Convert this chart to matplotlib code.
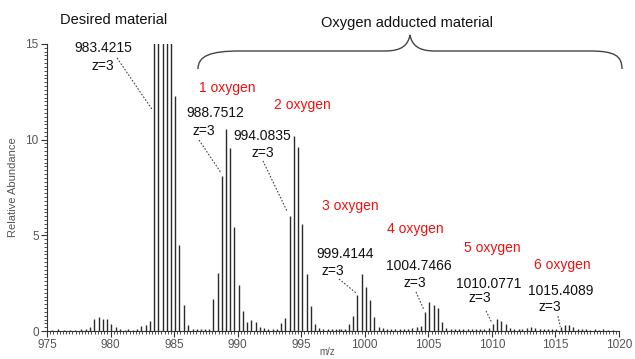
import matplotlib.pyplot as plt
from matplotlib.path import Path
from matplotlib.patches import PathPatch
from matplotlib.ticker import MultipleLocator

plt.rcParams["font.family"] = ["Liberation Sans", "DejaVu Sans"]

# Peaks of the z=3 ion series (m/z, relative abundance)
desired_mz = [978.39, 978.72, 979.06, 979.39, 979.72, 980.06, 980.39,
              982.42, 982.75, 983.09, 983.42, 983.75, 984.09, 984.42,
              984.75, 985.09, 985.42, 985.75, 986.09]
desired_ab = [0.19, 0.63, 0.72, 0.63, 0.63, 0.37, 0.2,
              0.25, 0.3, 0.5, 24.0, 38.0, 40.0, 31.0,
              19.0, 12.3, 4.5, 1.35, 0.3]

ox1_mz = [988.08, 988.42, 988.75, 989.08, 989.42, 989.75, 990.08, 990.42,
          990.75, 991.08, 991.42, 991.75, 992.08, 992.42, 992.75, 993.08]
ox1_ab = [1.66, 3.05, 8.1, 10.54, 9.58, 5.45, 2.4, 1.06,
          0.47, 0.57, 0.49, 0.22, 0.17, 0.12, 0.1, 0.08]

ox2_mz = [993.42, 993.75, 994.08, 994.42, 994.75, 995.08, 995.42, 995.75,
          996.08, 996.42, 996.75, 997.08, 997.42, 997.75]
ox2_ab = [0.43, 0.7, 6.03, 10.2, 9.6, 5.6, 2.96, 1.32,
          0.38, 0.15, 0.12, 0.1, 0.1, 0.08]

ox3_mz = [998.42, 998.75, 999.08, 999.41, 999.75, 1000.08, 1000.41, 1000.75,
          1001.08, 1001.41, 1001.75, 1002.08]
ox3_ab = [0.12, 0.35, 0.77, 1.87, 2.96, 2.28, 1.6, 0.75,
          0.22, 0.15, 0.12, 0.1]

ox4_mz = [1004.08, 1004.41, 1004.75, 1005.08, 1005.41, 1005.75, 1006.08,
          1006.41, 1006.75]
ox4_ab = [0.2, 0.25, 1.0, 1.5, 1.38, 1.2, 0.45, 0.18, 0.12]

ox5_mz = [1009.41, 1009.74, 1010.08, 1010.41, 1010.74, 1011.08, 1011.41,
          1011.74, 1012.75, 1013.08, 1013.41, 1013.75]
ox5_ab = [0.12, 0.15, 0.35, 0.61, 0.54, 0.36, 0.17, 0.1, 0.18, 0.2, 0.15, 0.12]

ox6_mz = [1014.74, 1015.08, 1015.41, 1015.74, 1016.08, 1016.41, 1016.74]
ox6_ab = [0.1, 0.12, 0.2, 0.32, 0.33, 0.2, 0.1]

# low level baseline signals between the clusters
noise_mz = [975.4, 975.9, 976.3, 976.8, 977.2, 977.7, 978.05,
            980.75, 981.1, 981.4, 981.75, 982.1,
            986.45, 986.8, 987.1, 987.45, 987.75,
            997.95, 998.1,
            1002.4, 1002.75, 1003.1, 1003.4, 1003.75,
            1007.1, 1007.4, 1007.75, 1008.1, 1008.4, 1008.75, 1009.1,
            1012.1, 1012.4, 1014.1, 1014.4,
            1017.1, 1017.4, 1017.75, 1018.1, 1018.4, 1018.75, 1019.1, 1019.5]
noise_ab = [0.06, 0.08, 0.05, 0.07, 0.06, 0.08, 0.1,
            0.08, 0.06, 0.09, 0.07, 0.1,
            0.1, 0.08, 0.12, 0.09, 0.1,
            0.08, 0.1,
            0.1, 0.08, 0.1, 0.12, 0.15,
            0.1, 0.08, 0.12, 0.09, 0.1, 0.12, 0.1,
            0.12, 0.1, 0.12, 0.1,
            0.08, 0.1, 0.07, 0.09, 0.06, 0.08, 0.07, 0.06]

# peak labels: text, text position, "z=3" position, leader end
peak_labels = ["983.4215", "988.7512", "994.0835", "999.4144",
               "1004.7466", "1010.0771", "1015.4089"]
label_xy = [(979.41, 14.79), (988.22, 11.39), (991.91, 10.19), (998.44, 4.02),
            (1004.27, 3.40), (1009.77, 2.46), (1015.44, 2.09)]
charge_xy = [(979.41, 13.85), (987.35, 10.45), (991.99, 9.30), (997.50, 3.14),
             (1003.95, 2.51), (1009.07, 1.72), (1014.57, 1.25)]
leader_start = [(980.51, 14.27), (986.96, 9.98), (991.99, 8.89), (997.97, 2.72),
                (1004.03, 2.04), (1009.54, 1.05), (1015.2, 0.78)]
leader_end = [(983.3, 11.55), (988.65, 8.31), (993.88, 6.27), (999.31, 1.99),
              (1004.66, 1.10), (1010.01, 0.42), (1015.38, 0.22)]

oxygen_labels = ["1 oxygen", "2 oxygen", "3 oxygen", "4 oxygen",
                 "5 oxygen", "6 oxygen"]
oxygen_xy = [(989.16, 12.70), (995.06, 11.81), (998.84, 6.53),
             (1003.95, 5.33), (1010.01, 4.34), (1015.52, 3.45)]

W, H = 635, 359
fig = plt.figure(figsize=(W / 100, H / 100), dpi=100)
ax = fig.add_axes([47 / W, 28 / H, 572 / W, 287 / H])

bar_color = "#2a2a2a"
for mz, ab in [(noise_mz, noise_ab), (desired_mz, desired_ab), (ox1_mz, ox1_ab),
               (ox2_mz, ox2_ab), (ox3_mz, ox3_ab), (ox4_mz, ox4_ab),
               (ox5_mz, ox5_ab), (ox6_mz, ox6_ab)]:
    ax.vlines(mz, 0, ab, color=bar_color, lw=1.0)

ax.set_xlim(975, 1020)
ax.set_ylim(0, 15)
ax.set_xticks(range(975, 1021, 5))
ax.set_yticks([0, 5, 10, 15])
ax.xaxis.set_minor_locator(MultipleLocator(0.25))
ax.yaxis.set_minor_locator(MultipleLocator(0.2))
ax.tick_params(which="major", direction="out", length=4, width=0.8,
               color="#333333", labelcolor="#555555", labelsize=8.5, pad=2)
ax.tick_params(which="minor", direction="out", length=2, width=0.6,
               color="#333333")
for side in ["top", "right"]:
    ax.spines[side].set_visible(False)
for side in ["left", "bottom"]:
    ax.spines[side].set_linewidth(0.8)
    ax.spines[side].set_color("#333333")

ax.set_ylabel("Relative Abundance", fontsize=8, color="#555555")
ax.yaxis.set_label_coords(-0.05, 0.5)
ax.set_xlabel("m/z", fontsize=7, color="#555555", va="top")
ax.xaxis.set_label_coords(0.49, -0.055)

# annotations
for txt, (x, y) in zip(peak_labels, label_xy):
    ax.text(x, y, txt, ha="center", va="center", fontsize=10, color="#111111",
            clip_on=False)
for (x, y) in charge_xy:
    ax.text(x, y, "z=3", ha="center", va="center", fontsize=10,
            color="#111111", clip_on=False)
for (x0, y0), (x1, y1) in zip(leader_start, leader_end):
    ax.plot([x0, x1], [y0, y1], color="#444444", lw=0.8,
            ls=(0, (1.5, 1.5)), clip_on=False)
for txt, (x, y) in zip(oxygen_labels, oxygen_xy):
    ax.text(x, y, txt, ha="center", va="center", fontsize=10, color="#ee1111")

ax.text(980.27, 16.25, "Desired material", ha="center", va="center",
        fontsize=10.5, color="#111111", clip_on=False)
ax.text(1003.36, 16.10, "Oxygen adducted material", ha="center", va="center",
        fontsize=10.5, color="#111111", clip_on=False)

# curly brace over the oxygen adducts, laid out in pixel units
brace_px = [(198, 69), (198, 56), (210, 51), (240, 51),
            (385, 51),
            (402, 51), (408, 45), (410, 35),
            (412, 45), (418, 51), (435, 51),
            (590, 51),
            (615, 51), (622, 56), (622, 69)]
codes = [Path.MOVETO, Path.CURVE4, Path.CURVE4, Path.CURVE4,
         Path.LINETO,
         Path.CURVE4, Path.CURVE4, Path.CURVE4,
         Path.CURVE4, Path.CURVE4, Path.CURVE4,
         Path.LINETO,
         Path.CURVE4, Path.CURVE4, Path.CURVE4]
verts = [(px / W, 1 - py / H) for px, py in brace_px]
fig.patches.append(PathPatch(Path(verts, codes), transform=fig.transFigure,
                             fill=False, edgecolor="#444444", lw=1.0))

plt.savefig("out.png", dpi=100)
